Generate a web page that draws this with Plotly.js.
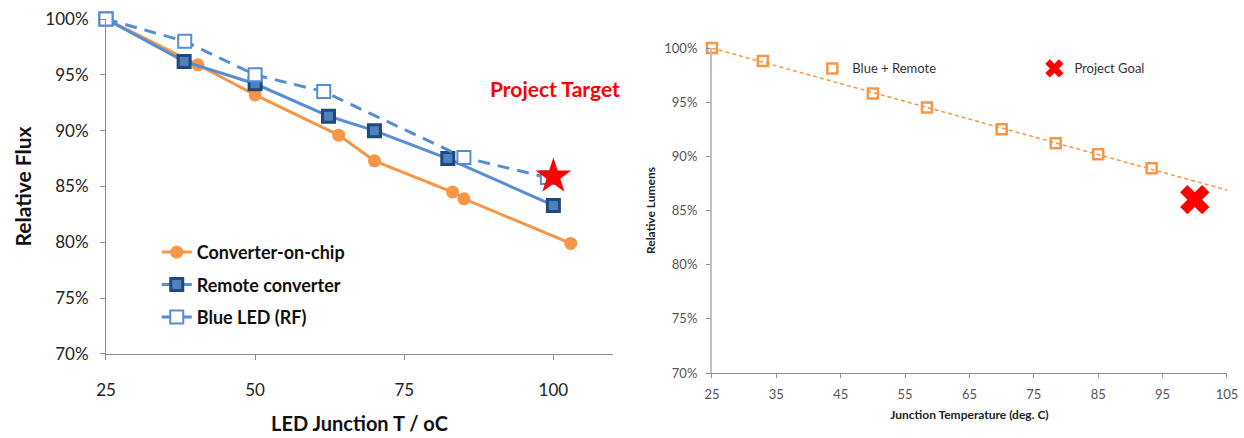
<!DOCTYPE html>
<html>
<head>
<meta charset="utf-8">
<script src="https://cdn.plot.ly/plotly-3.0.1.min.js"></script>
<style>
  html, body { margin: 0; padding: 0; background: #ffffff; overflow: hidden; }
  #chart { width: 1244px; height: 438px; }
</style>
</head>
<body>
<div id="chart"></div>
<script>
// ---- Left panel: relative flux vs LED junction temperature ----
const tempChip   = [25, 40.4, 50, 64, 70, 83.1, 85, 102.9];
const fluxChip   = [100, 95.9, 93.2, 89.6, 87.3, 84.5, 83.9, 79.9];

const tempRemote = [25, 38.1, 50, 62.3, 70, 82.3, 100];
const fluxRemote = [100, 96.2, 94.2, 91.3, 90.0, 87.5, 83.3];

const tempBlue   = [25, 38.2, 50, 61.5, 85, 99];
const fluxBlue   = [100, 98.0, 95.0, 93.5, 87.6, 85.8];

const targetTemp = [100];
const targetFlux = [85.9];

const leftXTicks = [25, 50, 75, 100];
const leftYTicks = [70, 75, 80, 85, 90, 95, 100];

// ---- Right panel: relative lumens vs junction temperature ----
const tempBR     = [25, 32.9, 50, 58.4, 70, 78.4, 85, 93.3];
const lumensBR   = [100, 98.8, 95.8, 94.5, 92.5, 91.2, 90.2, 88.9];

const goalTemp   = [100];
const goalLumens = [86.0];

const rightXTicks = [25, 35, 45, 55, 65, 75, 85, 95, 105];
const rightYTicks = [70, 75, 80, 85, 90, 95, 100];
const trendSpan   = [25, 105];

const pct = v => v + '%';

// Least-squares linear trend through the Blue + Remote measurements
function linearFit(xs, ys) {
  const n = xs.length;
  const mx = xs.reduce((a, b) => a + b, 0) / n;
  const my = ys.reduce((a, b) => a + b, 0) / n;
  let sxy = 0, sxx = 0;
  for (let i = 0; i < n; i++) {
    sxy += (xs[i] - mx) * (ys[i] - my);
    sxx += (xs[i] - mx) * (xs[i] - mx);
  }
  const slope = sxy / sxx;
  return x => my + slope * (x - mx);
}
const trend = linearFit(tempBR, lumensBR);
const trendLumens = trendSpan.map(trend);

const ORANGE = '#F79646';
const BLUE = '#558ED5';
const NAVY = '#1F497D';
const FONT = 'Lato, "Open Sans", sans-serif';

const traces = [
  {
    x: tempChip, y: fluxChip, name: 'Converter-on-chip',
    type: 'scatter', mode: 'lines+markers', xaxis: 'x', yaxis: 'y',
    line: { color: ORANGE, width: 3 },
    marker: { symbol: 'circle', size: 13, color: ORANGE },
    cliponaxis: false, legend: 'legend', legendgroup: 'a'
  },
  {
    x: tempRemote, y: fluxRemote, name: 'Remote converter',
    type: 'scatter', mode: 'lines+markers', xaxis: 'x', yaxis: 'y',
    line: { color: BLUE, width: 3 },
    marker: { symbol: 'square', size: 12, color: '#4F81BD', line: { color: NAVY, width: 3 } },
    cliponaxis: false, legend: 'legend', legendgroup: 'b'
  },
  {
    x: tempBlue, y: fluxBlue, name: 'Blue LED (RF)',
    type: 'scatter', mode: 'lines+markers', xaxis: 'x', yaxis: 'y',
    line: { color: BLUE, width: 3, dash: '12px,8px' },
    marker: { symbol: 'square', size: 13, color: '#ffffff', line: { color: BLUE, width: 2 } },
    cliponaxis: false, legend: 'legend', legendgroup: 'c'
  },
  {
    x: targetTemp, y: targetFlux, name: 'Project Target',
    type: 'scatter', mode: 'markers', xaxis: 'x', yaxis: 'y',
    marker: { symbol: 'star', size: 27, color: '#FF0000' },
    cliponaxis: false, showlegend: false
  },
  {
    x: trendSpan, y: trendLumens, name: 'Linear trend',
    type: 'scatter', mode: 'lines', xaxis: 'x2', yaxis: 'y2',
    line: { color: ORANGE, width: 1.5, dash: '4px,3px' },
    showlegend: false, hoverinfo: 'skip'
  },
  {
    x: tempBR, y: lumensBR, name: 'Blue + Remote',
    type: 'scatter', mode: 'markers', xaxis: 'x2', yaxis: 'y2',
    marker: { symbol: 'square-open', size: 10, color: ORANGE, line: { color: ORANGE, width: 2.5 } },
    cliponaxis: false, legend: 'legend2'
  },
  {
    x: goalTemp, y: goalLumens, name: 'Project Goal',
    type: 'scatter', mode: 'markers', xaxis: 'x2', yaxis: 'y2',
    marker: { symbol: 'x', size: 26, color: '#FF0000' },
    cliponaxis: false, legend: 'legend3'
  }
];

const smallLegend = {
  xanchor: 'left', yanchor: 'top', bgcolor: 'rgba(0,0,0,0)',
  font: { family: FONT, size: 13, color: '#333333' }
};

const layout = {
  width: 1244, height: 438,
  margin: { l: 0, r: 0, t: 0, b: 0 },
  paper_bgcolor: '#ffffff', plot_bgcolor: '#ffffff',
  font: { family: FONT, color: '#222222' },
  showlegend: true,
  xaxis: {
    domain: [0.0852, 0.4928], anchor: 'y',
    range: [25, 110], tickvals: leftXTicks,
    showgrid: false, zeroline: false,
    showline: true, linecolor: '#8c8c8c', linewidth: 1,
    ticks: 'outside', ticklen: 5, tickcolor: '#8c8c8c',
    ticklabelstandoff: 16,
    tickfont: { family: FONT, size: 17, color: '#222222' },
    title: { text: 'LED Junction T / oC', standoff: 17,
             font: { family: FONT, size: 20, weight: 'bold', color: '#111111' } }
  },
  yaxis: {
    domain: [0.1918, 0.9566], anchor: 'x',
    range: [70, 100], tickvals: leftYTicks, ticktext: leftYTicks.map(pct),
    showgrid: false, zeroline: false,
    showline: true, linecolor: '#8c8c8c', linewidth: 1,
    ticks: 'outside', ticklen: 5, tickcolor: '#8c8c8c',
    ticklabelstandoff: 8,
    tickfont: { family: FONT, size: 17, color: '#222222' },
    title: { text: 'Relative Flux', standoff: 8,
             font: { family: FONT, size: 21, weight: 'bold', color: '#111111' } }
  },
  xaxis2: {
    domain: [0.5723, 0.9863], anchor: 'y2',
    range: [25, 105], tickvals: rightXTicks,
    showgrid: false, zeroline: false,
    showline: true, linecolor: '#8c8c8c', linewidth: 1,
    ticks: 'outside', ticklen: 4, tickcolor: '#8c8c8c',
    ticklabelstandoff: 5,
    tickfont: { family: FONT, size: 13, color: '#555555' },
    title: { text: 'Junction Temperature (deg. C)', standoff: 9,
             font: { family: FONT, size: 12, weight: 'bold', color: '#222222' } }
  },
  yaxis2: {
    domain: [0.1484, 0.8904], anchor: 'x2',
    range: [70, 100], tickvals: rightYTicks, ticktext: rightYTicks.map(pct),
    showgrid: false, zeroline: false,
    showline: true, linecolor: '#bfbfbf', linewidth: 2,
    ticks: 'outside', ticklen: 4, tickcolor: '#8c8c8c',
    ticklabelstandoff: 6,
    tickfont: { family: FONT, size: 13, color: '#555555' },
    title: { text: 'Relative Lumens', standoff: 6,
             font: { family: FONT, size: 12, weight: 'bold', color: '#222222' } }
  },
  legend: {
    x: 0.126, y: 0.466, xanchor: 'left', yanchor: 'top',
    bgcolor: 'rgba(0,0,0,0)', tracegroupgap: 6,
    font: { family: FONT, size: 18, weight: 'bold', color: '#111111' }
  },
  legend2: Object.assign({ x: 0.653, y: 0.878 }, smallLegend),
  legend3: Object.assign({ x: 0.8315, y: 0.878 }, smallLegend),
  annotations: [
    {
      text: 'Project Target', xref: 'x', yref: 'y', x: 100.3, y: 93.8,
      showarrow: false, xanchor: 'center', yanchor: 'middle',
      font: { family: FONT, size: 21, weight: 'bold', color: '#FF0000' }
    }
  ]
};

Plotly.newPlot('chart', traces, layout, { displayModeBar: false, staticPlot: true });
</script>
</body>
</html>
